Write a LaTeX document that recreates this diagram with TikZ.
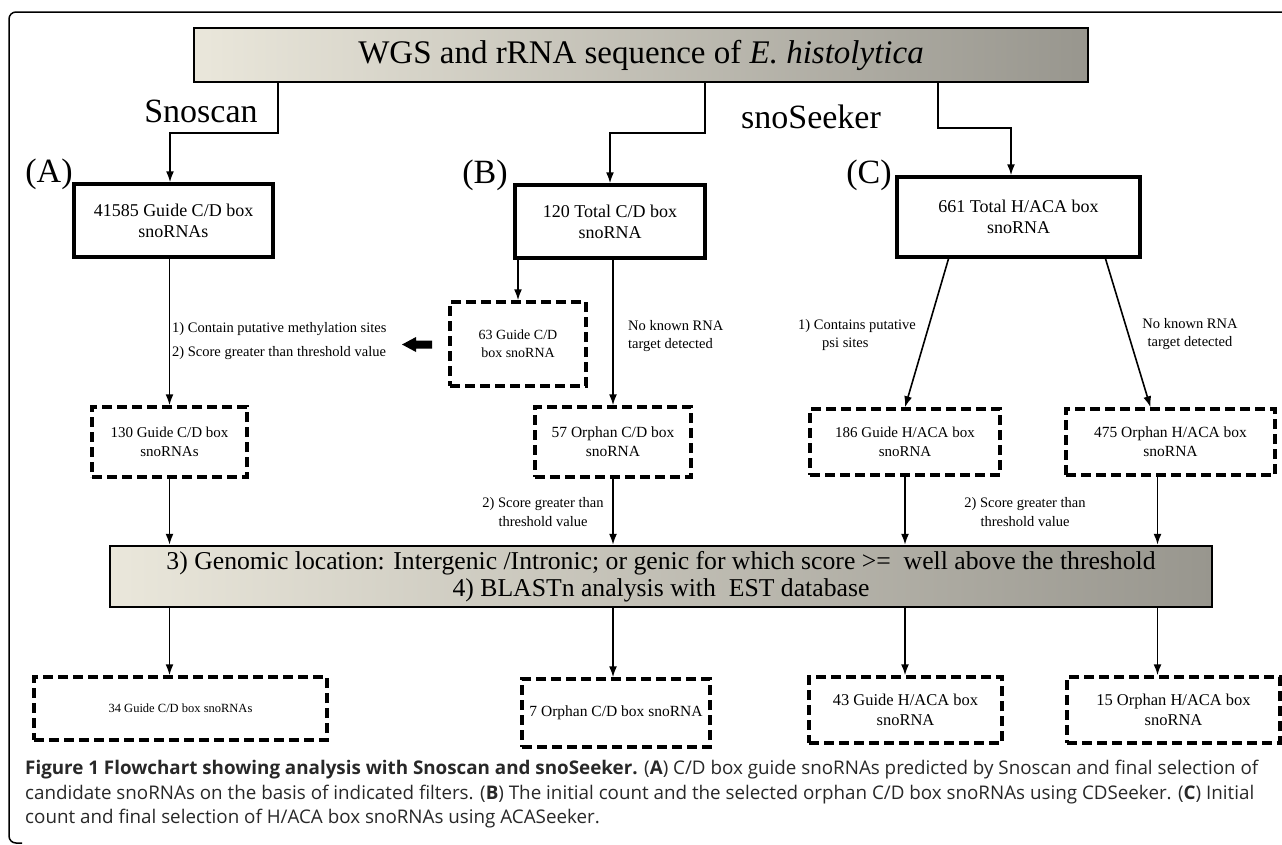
\documentclass[tikz,border=0pt]{standalone}
\usepackage{fontspec}
\setmainfont{Liberation Serif}
\newfontfamily\capfont{Open Sans}
\usetikzlibrary{arrows.meta,positioning}

\definecolor{banlight}{RGB}{234,231,219}
\definecolor{bandark}{RGB}{152,150,142}
\definecolor{captext}{RGB}{40,40,40}

\tikzset{
  banner/.style={draw, line width=2.5pt, left color=banlight, right color=bandark, align=center, inner sep=0pt},
  solidbox/.style={draw, line width=3.5pt, align=center, inner sep=0pt, font=\fontsize{18}{21}\selectfont},
  dashbox/.style={draw, line width=3.5pt, dash pattern=on 10pt off 5pt, align=center, inner sep=0pt},
  arr/.style={-{Latex[length=11pt,width=8pt]}, line width=1.6pt},
  lbl/.style={font=\fontsize{14.5}{18.5}\selectfont, inner sep=0pt},
  big/.style={font=\fontsize{34}{40}\selectfont, inner sep=0pt}
}

\begin{document}
\begin{tikzpicture}[x=1pt, y=-1pt]
      \useasboundingbox (0,0) rectangle (1282,844);
      \draw[line width=1.5pt, rounded corners=7pt] (1282,12) -- (9,12) -- (9,843) -- (22,843);

      % top row
      \node[banner, minimum width=894pt, minimum height=54pt, font=\fontsize{33}{38}\selectfont] (wgs) at (641,55) {WGS and rRNA sequence of \textit{E. histolytica}};
      \node[big] (snoscan) at (201,111) {Snoscan};
      \node[big] (snoseeker) at (811,117) {snoSeeker};
      \node[big] (labA) at (49,174) {(A)};
      \node[big] (labB) at (485,175) {(B)};
      \node[big] (labC) at (869,175) {(C)};

      \node[solidbox, minimum width=199pt, minimum height=73pt] (g41585) at (173.5,220.5) {41585 Guide C/D box\\snoRNAs};
      \node[solidbox, minimum width=190pt, minimum height=73pt] (t120) at (610,221.5) {120 Total C/D box\\snoRNA};
      \node[solidbox, minimum width=243pt, minimum height=80pt] (t661) at (1018.5,217) {661 Total H/ACA box\\snoRNA};

      % middle row
      \node[dashbox, minimum width=136pt, minimum height=84pt, font=\fontsize{14}{18}\selectfont] (g63) at (518,344) {63 Guide C/D\\box snoRNA};
      \node[dashbox, minimum width=155pt, minimum height=70pt, font=\fontsize{15}{19}\selectfont] (g130) at (169.5,442) {130 Guide C/D box\\snoRNAs};
      \node[dashbox, minimum width=156pt, minimum height=70pt, font=\fontsize{15.5}{19}\selectfont] (o57) at (613,442) {57 Orphan C/D box\\snoRNA};
      \node[dashbox, minimum width=190pt, minimum height=66pt, font=\fontsize{15}{19}\selectfont] (g186) at (905,442) {186 Guide H/ACA box\\snoRNA};
      \node[dashbox, minimum width=209pt, minimum height=66pt, font=\fontsize{15.5}{19}\selectfont] (o475) at (1170.5,442) {475 Orphan H/ACA box\\snoRNA};

      \node[lbl, anchor=west] (meth) at (172,329) {1) Contain putative methylation sites};
      \node[lbl, anchor=west] (thr1) at (172,353) {2) Score greater than threshold value};
      \node[lbl, anchor=west, align=left] (nokn1) at (628,336) {No known RNA\\target detected};
      \node[lbl, anchor=west, align=left] (psi) at (798,335) {1) Contains putative\\\hspace*{24pt}psi sites};
      \node[lbl, align=center] (nokn2) at (1190,334) {No known RNA\\target detected};
      \node[lbl, align=center] (thr2) at (543,512) {2) Score greater than\\threshold value};
      \node[lbl, align=center] (thr3) at (1025,512) {2) Score greater than\\threshold value};
      \fill (402,344.5) -- (416,337) -- (416,340.5) -- (432,340.5) -- (432,348.5) -- (416,348.5) -- (416,352) -- cycle;

      % filter banner and results
      \node[banner, minimum width=1102pt, minimum height=61pt, font=\fontsize{25.7}{27}\selectfont] (blast) at (661,576.5) {3) Genomic location: Intergenic /Intronic; or genic for which score >=\ \ well above the threshold\\4) BLASTn analysis with\ \ EST database};

      \node[dashbox, minimum width=293pt, minimum height=63pt, font=\fontsize{12.5}{16}\selectfont] (g34) at (180.5,708.5) {34 Guide C/D box snoRNAs};
      \node[dashbox, minimum width=188pt, minimum height=68pt, font=\fontsize{15.5}{19}\selectfont] (o7) at (616,713) {7 Orphan C/D box snoRNA};
      \node[dashbox, minimum width=193pt, minimum height=66pt, font=\fontsize{16.5}{20}\selectfont] (g43) at (905.5,710) {43 Guide H/ACA box\\snoRNA};
      \node[dashbox, minimum width=213pt, minimum height=66pt, font=\fontsize{16.5}{20}\selectfont] (o15) at (1173.5,710) {15 Orphan H/ACA box\\snoRNA};

      % connectors
      \coordinate (kA) at (278,133);
      \coordinate (kB) at (705,133);
      \coordinate (kC) at (938,128);
      \coordinate (o475s) at ([xshift=-13pt]o475.south);
      \draw[arr] (wgs.south -| kA) -- (kA) -| ([xshift=-3.5pt]g41585.north);
      \draw[arr] (wgs.south -| kB) -- (kB) -| (t120.north);
      \draw[arr] (wgs.south -| kC) -- (kC) -| ([xshift=-7.5pt]t661.north);
      \draw[arr] (g130.north |- g41585.south) -- (g130.north);
      \draw[arr] (g63.north |- t120.south) -- (g63.north);
      \draw[arr] (o57.north |- t120.south) -- (o57.north);
      \draw[arr] ([xshift=-70pt]t661.south) -- (g186.north);
      \draw[arr] ([xshift=87pt]t661.south) -- ([xshift=-20pt]o475.north);
      \draw[arr] (g130.south) -- (g130.south |- blast.north);
      \draw[arr] (o57.south) -- (o57.south |- blast.north);
      \draw[arr] (g186.south) -- (g186.south |- blast.north);
      \draw[arr] (o475s) -- (o475s |- blast.north);
      \draw[arr] (g130.south |- blast.south) -- (g130.south |- g34.north);
      \draw[arr] (o57.south |- blast.south) -- (o57.south |- o7.north);
      \draw[arr] (g186.south |- blast.south) -- (g186.south |- g43.north);
      \draw[arr] (o475s |- blast.south) -- (o475s |- o15.north);

      % caption
      \node[anchor=north west, align=left, inner sep=0pt, text=captext, font=\capfont\fontsize{18.8}{24.5}\selectfont] (cap) at (25,760) {\textbf{Figure 1 Flowchart showing analysis with Snoscan and snoSeeker.} (\textbf{A}) C/D box guide snoRNAs predicted by Snoscan and final selection of\\candidate snoRNAs on the basis of indicated filters. (\textbf{B}) The initial count and the selected orphan C/D box snoRNAs using CDSeeker. (\textbf{C}) Initial\\count and final selection of H/ACA box snoRNAs using ACASeeker.};
    \end{tikzpicture}
\end{document}
